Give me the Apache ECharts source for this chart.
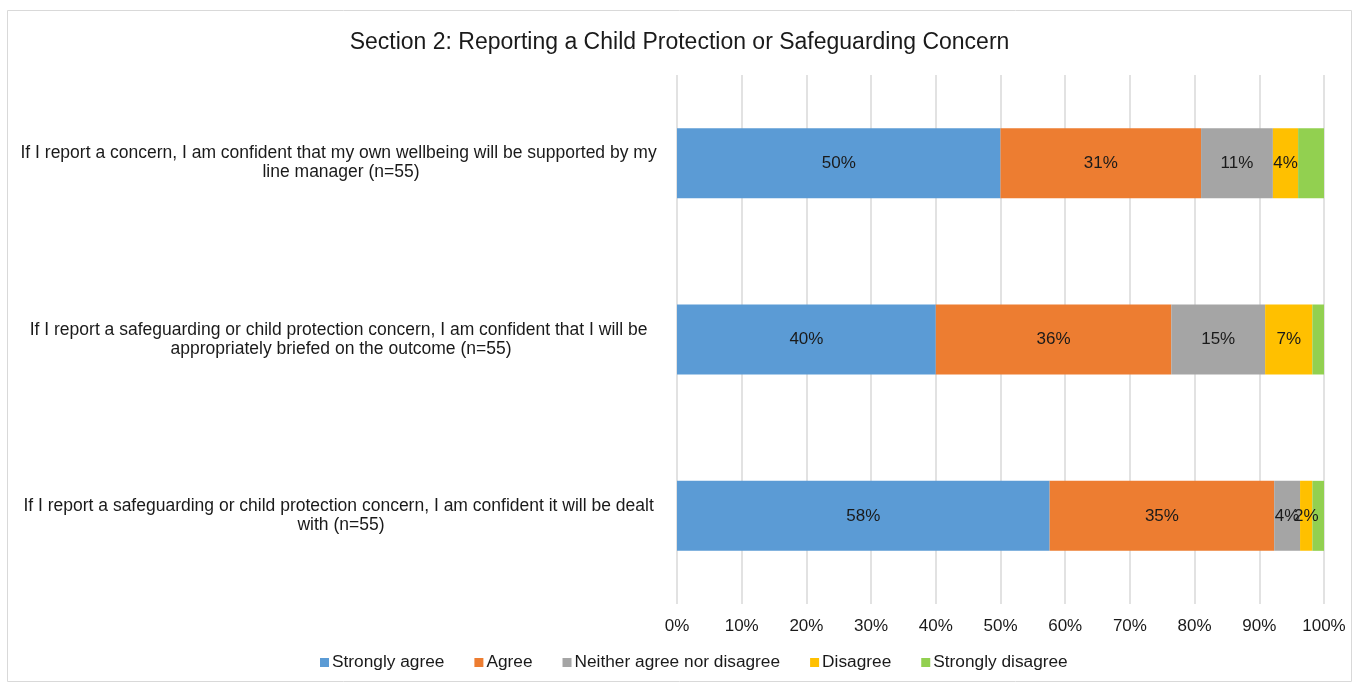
<!DOCTYPE html>
<html>
<head>
<meta charset="utf-8">
<script src="https://cdn.jsdelivr.net/npm/echarts@6/dist/echarts.min.js"></script>
<style>
html,body{margin:0;padding:0;background:#fff;}
#c{width:1359px;height:684px;}
</style>
</head>
<body>
<div id="c"></div>
<script>
const titleText = 'Section 2: Reporting a Child Protection or Safeguarding Concern';
const categories = [
  'If I report a concern, I am confident that my own wellbeing will be supported by my line manager (n=55)',
  'If I report a safeguarding or child protection concern, I am confident that I will be appropriately briefed on the outcome (n=55)',
  'If I report a safeguarding or child protection concern, I am confident it will be dealt with (n=55)'
];
const seriesNames = ['Strongly agree', 'Agree', 'Neither agree nor disagree', 'Disagree', 'Strongly disagree'];
const stronglyAgree = [50.0, 40.0, 57.6];
const agree = [31.0, 36.4, 34.7];
const neither = [11.1, 14.5, 4.0];
const disagree = [3.9, 7.3, 1.9];
const stronglyDisagree = [4.0, 1.8, 1.8];
const xTicks = [0, 10, 20, 30, 40, 50, 60, 70, 80, 90, 100];
const colors = ['#5B9BD5', '#ED7D31', '#A5A5A5', '#FFC000', '#92D050'];
const showLabel = [true, true, true, true, false];

const values = [stronglyAgree, agree, neither, disagree, stronglyDisagree];
const font = 'Liberation Sans, Arial, sans-serif';
const txt = '#1a1a1a';

const chart = echarts.init(document.getElementById('c'));
chart.setOption({
  animation: false,
  color: colors,
  graphic: [{
    type: 'rect',
    shape: {x: 7.5, y: 10.5, width: 1344, height: 671},
    style: {fill: 'none', stroke: '#d9d9d9', lineWidth: 1},
    silent: true
  }],
  title: {
    text: titleText,
    left: 'center',
    top: 26,
    textStyle: {fontFamily: font, fontSize: 23, fontWeight: 'normal', color: txt}
  },
  legend: {
    bottom: 8,
    left: 315,
    icon: 'rect',
    itemWidth: 9,
    itemHeight: 9,
    itemGap: 30,
    textStyle: {fontFamily: font, fontSize: 17.3, color: txt, padding: [0, 0, 0, -2]},
    data: seriesNames
  },
  grid: {left: 677, right: 35, top: 75, bottom: 80, containLabel: false},
  xAxis: {
    type: 'value',
    min: 0,
    max: 100,
    interval: 10,
    axisLine: {show: false},
    axisTick: {show: false},
    splitLine: {show: true, lineStyle: {color: '#d9d9d9', width: 1.5}},
    axisLabel: {
      fontFamily: font, fontSize: 17, color: txt, margin: 14,
      formatter: v => xTicks.includes(v) ? v + '%' : ''
    }
  },
  yAxis: {
    type: 'category',
    inverse: true,
    data: categories,
    axisLine: {show: false},
    axisTick: {show: false},
    axisLabel: {
      fontFamily: font, fontSize: 17.5, color: txt,
      align: 'center',
      margin: 336,
      width: 662,
      overflow: 'break',
      lineHeight: 19
    }
  },
  series: seriesNames.map((name, i) => ({
    name: name,
    type: 'bar',
    stack: 'total',
    barWidth: 70,
    data: values[i],
    itemStyle: {color: colors[i]},
    label: {
      show: showLabel[i],
      position: 'inside',
      fontFamily: font,
      fontSize: 17,
      color: txt,
      formatter: p => Math.round(p.value) + '%'
    }
  }))
});
</script>
</body>
</html>
